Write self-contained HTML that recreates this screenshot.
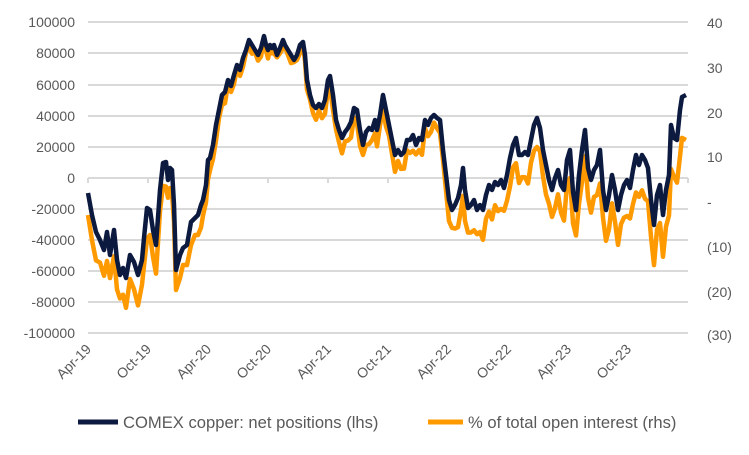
<!DOCTYPE html>
<html><head><meta charset="utf-8"><style>
body{margin:0;background:#fff;width:749px;height:450px;overflow:hidden}
text{font-family:"Liberation Sans",Arial,sans-serif;fill:#595959;font-size:14px}
.lg{font-size:16.6px}
</style></head><body>
<svg id="s" width="749" height="450" xmlns="http://www.w3.org/2000/svg">
<g stroke="#d9d9d9" stroke-width="2">
<line x1="88" x2="688" y1="22" y2="22"/><line x1="88" x2="688" y1="53" y2="53"/><line x1="88" x2="688" y1="85" y2="85"/><line x1="88" x2="688" y1="116" y2="116"/><line x1="88" x2="688" y1="147" y2="147"/><line x1="88" x2="688" y1="178" y2="178"/><line x1="88" x2="688" y1="209" y2="209"/><line x1="88" x2="688" y1="240" y2="240"/><line x1="88" x2="688" y1="271" y2="271"/><line x1="88" x2="688" y1="302" y2="302"/><line x1="88" x2="688" y1="333" y2="333"/>
</g>
<g id="ticks" stroke="#d9d9d9" stroke-width="2"></g>
<g text-anchor="end">
<text x="75" y="27">100000</text><text x="75" y="58">80000</text><text x="75" y="90">60000</text><text x="75" y="121">40000</text><text x="75" y="152">20000</text><text x="75" y="183">0</text><text x="75" y="214">-20000</text><text x="75" y="245">-40000</text><text x="75" y="276">-60000</text><text x="75" y="307">-80000</text><text x="75" y="338">-100000</text>
</g>
<g>
<text x="707" y="28">40</text><text x="707" y="73">30</text><text x="707" y="118">20</text><text x="707" y="162">10</text><text x="707" y="207">-</text><text x="707" y="252">(10)</text><text x="707" y="297">(20)</text><text x="707" y="340">(30)</text>
</g>
<g id="xl" text-anchor="end"></g>
<polyline id="o" fill="none" stroke="#ff9900" stroke-width="4.5" stroke-linejoin="round"/>
<polyline id="n" fill="none" stroke="#0c1a40" stroke-width="4.5" stroke-linejoin="round"/>
<line x1="78" x2="118" y1="422" y2="422" stroke="#0c1a40" stroke-width="5"/>
<text class="lg" x="123" y="428">COMEX copper: net positions (lhs)</text>
<line x1="428" x2="463" y1="422" y2="422" stroke="#ff9900" stroke-width="5"/>
<text class="lg" x="468" y="428">% of total open interest (rhs)</text>
</svg>
<script>
var N=[[88,193],[92,215],[96,232],[100,240],[104,250],[107,232],[110,255],[114,230],[117,260],[120,275],[123,268],[126,278],[130,255],[134,262],[138,275],[142,260],[144,238],[147,208],[150,210],[153,230],[156,245],[160,190],[163,163],[166,162],[168,180],[170,168],[172,170],[174,205],[176,270],[180,255],[183,248],[187,245],[191,222],[195,218],[198,215],[201,205],[203,200],[206,185],[208,160],[210,158],[213,145],[216,125],[219,110],[222,95],[225,92],[228,80],[231,86],[234,75],[237,65],[240,70],[243,58],[246,50],[249,40],[252,45],[255,50],[258,55],[261,48],[264,36],[266,45],[268,50],[270,45],[272,48],[274,45],[277,55],[280,48],[283,40],[285,45],[288,50],[291,55],[294,60],[297,55],[300,45],[303,42],[305,55],[307,80],[310,95],[313,105],[316,108],[319,104],[322,108],[325,100],[328,80],[330,76],[333,95],[336,120],[339,130],[342,138],[345,132],[348,128],[351,122],[354,108],[357,110],[360,130],[363,145],[366,132],[369,128],[372,130],[375,120],[377,130],[380,115],[383,95],[386,110],[389,125],[392,140],[395,155],[398,150],[401,155],[404,152],[407,140],[410,140],[413,135],[416,145],[419,138],[422,140],[425,120],[428,125],[431,118],[434,115],[437,118],[440,120],[443,150],[446,175],[449,200],[452,210],[455,205],[458,198],[461,185],[463,168],[465,190],[468,208],[471,205],[474,200],[477,210],[480,205],[483,210],[486,195],[489,185],[492,190],[495,182],[498,185],[501,180],[504,188],[507,175],[510,158],[513,145],[516,138],[519,155],[522,155],[525,152],[528,155],[531,140],[534,125],[537,118],[540,128],[543,150],[546,165],[549,180],[552,190],[555,178],[558,170],[561,185],[564,190],[567,160],[570,150],[573,192],[576,210],[579,175],[582,150],[585,130],[588,168],[591,180],[594,170],[597,165],[600,150],[603,190],[606,210],[609,195],[612,175],[615,190],[618,210],[621,195],[624,185],[627,180],[630,188],[633,170],[636,155],[639,165],[642,155],[645,160],[648,168],[651,200],[654,225],[657,195],[660,185],[663,215],[666,190],[669,175],[671,125],[674,138],[677,140],[680,110],[682,97],[686,95]];
var OF=[[88,25],[150,28],[170,20],[200,20],[230,6],[300,5],[330,12],[400,14],[440,10],[460,28],[520,25],[570,28],[620,32],[660,38],[686,45]];
function off(x){for(var i=0;i<OF.length-1;i++){if(x<=OF[i+1][0]){var t=(x-OF[i][0])/(OF[i+1][0]-OF[i][0]);return OF[i][1]+t*(OF[i+1][1]-OF[i][1]);}}return 45;}
document.getElementById('n').setAttribute('points',N.map(p=>p.join(',')).join(' '));
document.getElementById('o').setAttribute('points',N.map((p,i)=>p[0]+','+Math.min(325,p[1]+off(p[0])+((i%3)-1)*3)).join(' '));
var L=['Apr-19','Oct-19','Apr-20','Oct-20','Apr-21','Oct-21','Apr-22','Oct-22','Apr-23','Oct-23'],t='',x='';
for(var i=0;i<=10;i++){var X=88+60*i;t+='<line x1="'+X+'" x2="'+X+'" y1="178" y2="183"/>';}
L.forEach(function(l,i){var X=88+60*i+4;x+='<text transform="translate('+X+',350) rotate(-45)">'+l+'</text>';});
document.getElementById('ticks').innerHTML=t;document.getElementById('xl').innerHTML=x;
</script>
</body></html>
